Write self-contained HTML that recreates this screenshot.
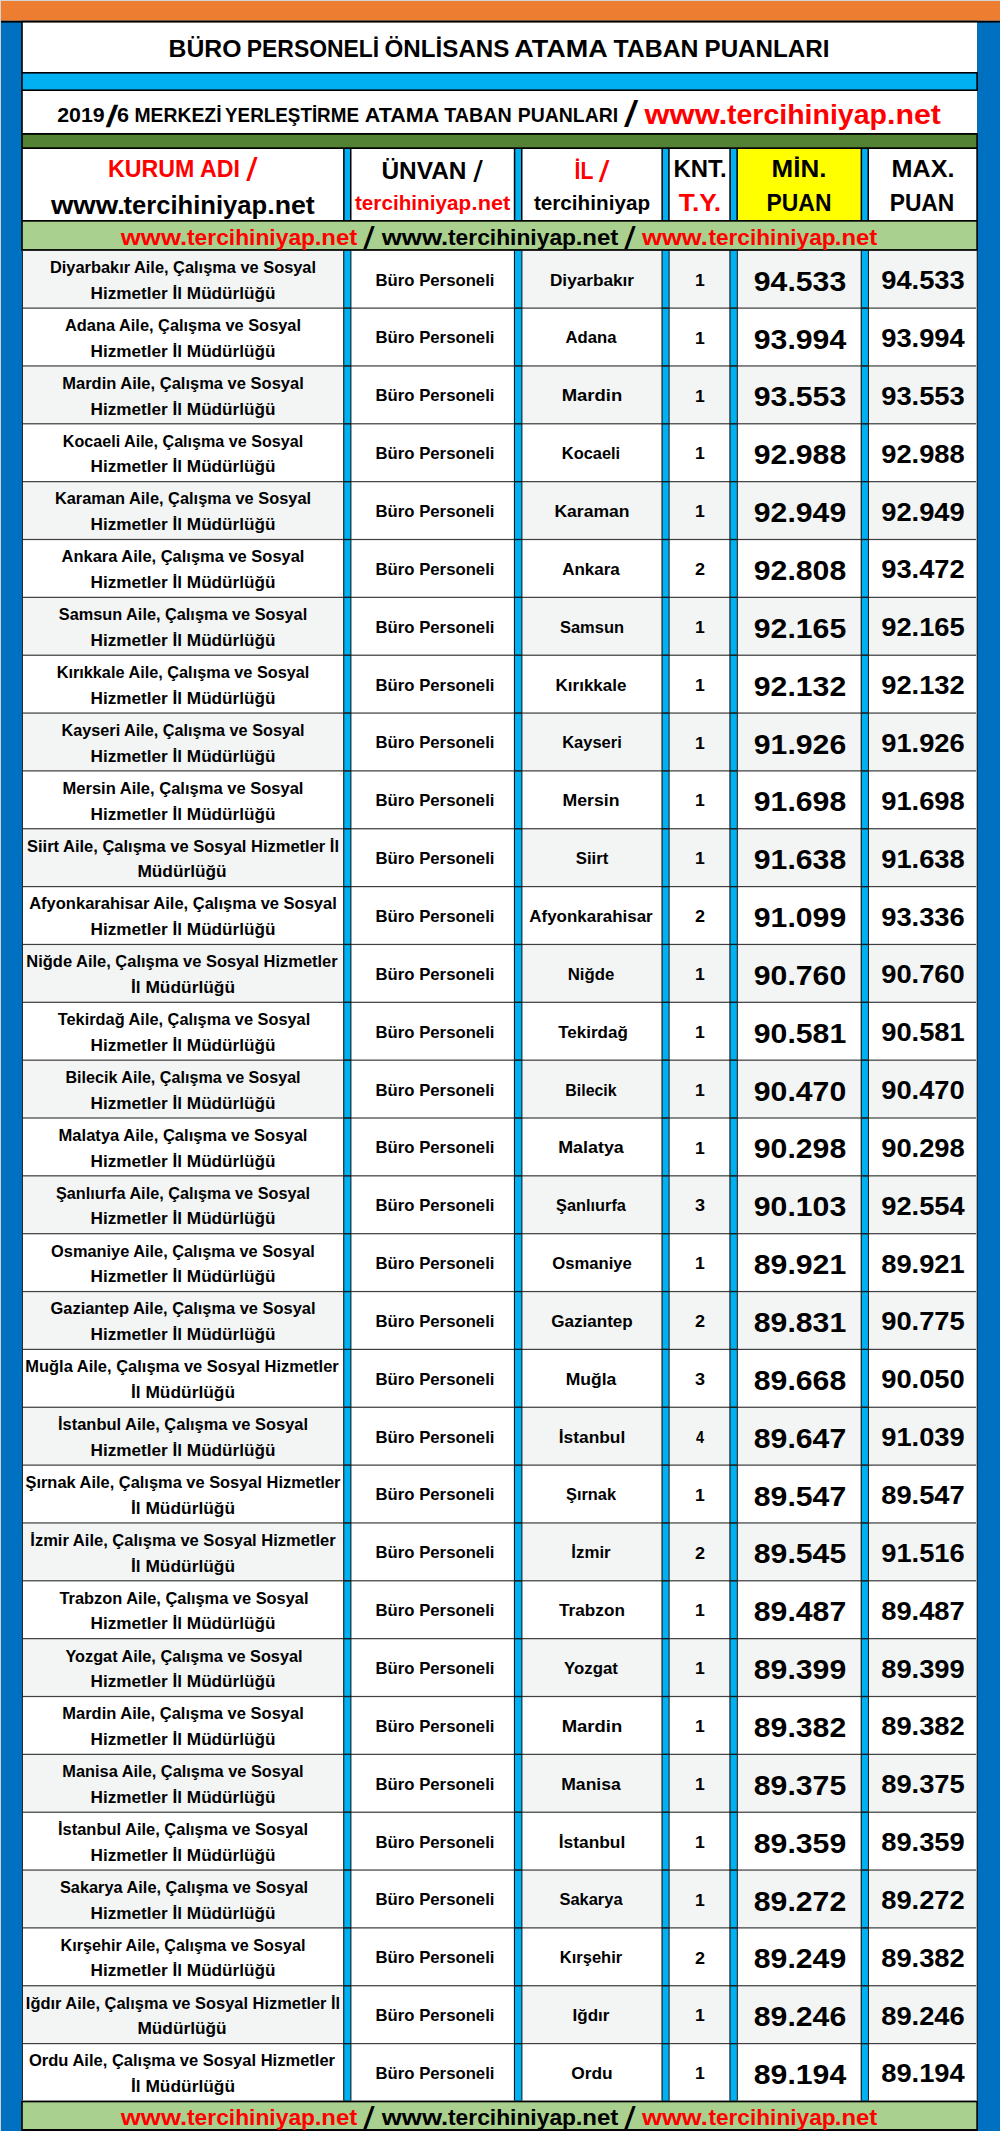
<!DOCTYPE html>
<html lang="tr"><head><meta charset="utf-8"><title>Büro Personeli Önlisans Atama Taban Puanları</title>
<style>
html,body{margin:0;padding:0;background:#fff;}
body{width:1000px;height:2131px;position:relative;overflow:hidden;font-family:"Liberation Sans",sans-serif;font-weight:700;color:#000;}
svg{position:absolute;left:0;top:0;display:block;}
.t{position:absolute;white-space:nowrap;line-height:1;transform-origin:50% 0;text-align:center;width:800px;margin-left:-400px;}
</style></head><body>
<svg width="1000" height="2131" viewBox="0 0 1000 2131">
<rect x="0.00" y="0.00" width="1000.00" height="2131.00" fill="#D4D4D4"/>
<rect x="1.00" y="1.00" width="999.00" height="19.80" fill="#ED7D31"/>
<rect x="1.00" y="20.80" width="999.00" height="2110.20" fill="#0070C0"/>
<rect x="1.00" y="20.80" width="999.00" height="1.80" fill="#000"/>
<rect x="21.20" y="20.80" width="956.70" height="2110.20" fill="#000"/>
<rect x="22.80" y="22.60" width="954.50" height="49.40" fill="#fff"/>
<rect x="22.80" y="73.60" width="953.50" height="15.80" fill="#00B0F0"/>
<rect x="22.80" y="91.00" width="954.50" height="42.00" fill="#fff"/>
<rect x="22.80" y="134.80" width="953.50" height="12.50" fill="#548235"/>
<rect x="977.30" y="22.60" width="0.70" height="49.40" fill="#0070C0"/>
<rect x="977.30" y="91.00" width="0.70" height="42.00" fill="#0070C0"/>
<rect x="22.80" y="149.00" width="320.30" height="71.00" fill="#fff"/>
<rect x="351.50" y="149.00" width="162.30" height="71.00" fill="#fff"/>
<rect x="522.50" y="149.00" width="138.90" height="71.00" fill="#fff"/>
<rect x="669.70" y="149.00" width="59.60" height="71.00" fill="#fff"/>
<rect x="737.90" y="149.00" width="122.70" height="71.00" fill="#FFFF00"/>
<rect x="869.00" y="149.00" width="107.30" height="71.00" fill="#fff"/>
<rect x="344.60" y="149.00" width="5.40" height="71.00" fill="#00B0F0"/>
<rect x="515.30" y="149.00" width="5.70" height="71.00" fill="#00B0F0"/>
<rect x="662.90" y="149.00" width="5.30" height="71.00" fill="#00B0F0"/>
<rect x="730.80" y="149.00" width="5.60" height="71.00" fill="#00B0F0"/>
<rect x="862.10" y="149.00" width="5.40" height="71.00" fill="#00B0F0"/>
<rect x="22.80" y="221.70" width="953.50" height="27.40" fill="#A9D08E"/>
<rect x="21.80" y="250.85" width="322.30" height="57.25" fill="#F3F5F5"/>
<rect x="350.50" y="250.85" width="164.30" height="57.25" fill="#fff"/>
<rect x="521.50" y="250.85" width="140.90" height="57.25" fill="#F3F5F5"/>
<rect x="668.70" y="250.85" width="61.60" height="57.25" fill="#F3F5F5"/>
<rect x="736.90" y="250.85" width="124.70" height="57.25" fill="#F3F5F5"/>
<rect x="868.00" y="250.85" width="109.30" height="57.25" fill="#F3F5F5"/>
<rect x="21.80" y="308.10" width="322.30" height="57.85" fill="#fff"/>
<rect x="350.50" y="308.10" width="164.30" height="57.85" fill="#fff"/>
<rect x="521.50" y="308.10" width="140.90" height="57.85" fill="#fff"/>
<rect x="668.70" y="308.10" width="61.60" height="57.85" fill="#fff"/>
<rect x="736.90" y="308.10" width="124.70" height="57.85" fill="#fff"/>
<rect x="868.00" y="308.10" width="109.30" height="57.85" fill="#fff"/>
<rect x="21.80" y="365.95" width="322.30" height="57.85" fill="#F3F5F5"/>
<rect x="350.50" y="365.95" width="164.30" height="57.85" fill="#fff"/>
<rect x="521.50" y="365.95" width="140.90" height="57.85" fill="#F3F5F5"/>
<rect x="668.70" y="365.95" width="61.60" height="57.85" fill="#F3F5F5"/>
<rect x="736.90" y="365.95" width="124.70" height="57.85" fill="#F3F5F5"/>
<rect x="868.00" y="365.95" width="109.30" height="57.85" fill="#F3F5F5"/>
<rect x="21.80" y="423.80" width="322.30" height="57.85" fill="#fff"/>
<rect x="350.50" y="423.80" width="164.30" height="57.85" fill="#fff"/>
<rect x="521.50" y="423.80" width="140.90" height="57.85" fill="#fff"/>
<rect x="668.70" y="423.80" width="61.60" height="57.85" fill="#fff"/>
<rect x="736.90" y="423.80" width="124.70" height="57.85" fill="#fff"/>
<rect x="868.00" y="423.80" width="109.30" height="57.85" fill="#fff"/>
<rect x="21.80" y="481.65" width="322.30" height="57.85" fill="#F3F5F5"/>
<rect x="350.50" y="481.65" width="164.30" height="57.85" fill="#fff"/>
<rect x="521.50" y="481.65" width="140.90" height="57.85" fill="#F3F5F5"/>
<rect x="668.70" y="481.65" width="61.60" height="57.85" fill="#F3F5F5"/>
<rect x="736.90" y="481.65" width="124.70" height="57.85" fill="#F3F5F5"/>
<rect x="868.00" y="481.65" width="109.30" height="57.85" fill="#F3F5F5"/>
<rect x="21.80" y="539.50" width="322.30" height="57.85" fill="#fff"/>
<rect x="350.50" y="539.50" width="164.30" height="57.85" fill="#fff"/>
<rect x="521.50" y="539.50" width="140.90" height="57.85" fill="#fff"/>
<rect x="668.70" y="539.50" width="61.60" height="57.85" fill="#fff"/>
<rect x="736.90" y="539.50" width="124.70" height="57.85" fill="#fff"/>
<rect x="868.00" y="539.50" width="109.30" height="57.85" fill="#fff"/>
<rect x="21.80" y="597.35" width="322.30" height="57.85" fill="#F3F5F5"/>
<rect x="350.50" y="597.35" width="164.30" height="57.85" fill="#fff"/>
<rect x="521.50" y="597.35" width="140.90" height="57.85" fill="#F3F5F5"/>
<rect x="668.70" y="597.35" width="61.60" height="57.85" fill="#F3F5F5"/>
<rect x="736.90" y="597.35" width="124.70" height="57.85" fill="#F3F5F5"/>
<rect x="868.00" y="597.35" width="109.30" height="57.85" fill="#F3F5F5"/>
<rect x="21.80" y="655.20" width="322.30" height="57.85" fill="#fff"/>
<rect x="350.50" y="655.20" width="164.30" height="57.85" fill="#fff"/>
<rect x="521.50" y="655.20" width="140.90" height="57.85" fill="#fff"/>
<rect x="668.70" y="655.20" width="61.60" height="57.85" fill="#fff"/>
<rect x="736.90" y="655.20" width="124.70" height="57.85" fill="#fff"/>
<rect x="868.00" y="655.20" width="109.30" height="57.85" fill="#fff"/>
<rect x="21.80" y="713.05" width="322.30" height="57.85" fill="#F3F5F5"/>
<rect x="350.50" y="713.05" width="164.30" height="57.85" fill="#fff"/>
<rect x="521.50" y="713.05" width="140.90" height="57.85" fill="#F3F5F5"/>
<rect x="668.70" y="713.05" width="61.60" height="57.85" fill="#F3F5F5"/>
<rect x="736.90" y="713.05" width="124.70" height="57.85" fill="#F3F5F5"/>
<rect x="868.00" y="713.05" width="109.30" height="57.85" fill="#F3F5F5"/>
<rect x="21.80" y="770.90" width="322.30" height="57.85" fill="#fff"/>
<rect x="350.50" y="770.90" width="164.30" height="57.85" fill="#fff"/>
<rect x="521.50" y="770.90" width="140.90" height="57.85" fill="#fff"/>
<rect x="668.70" y="770.90" width="61.60" height="57.85" fill="#fff"/>
<rect x="736.90" y="770.90" width="124.70" height="57.85" fill="#fff"/>
<rect x="868.00" y="770.90" width="109.30" height="57.85" fill="#fff"/>
<rect x="21.80" y="828.75" width="322.30" height="57.85" fill="#F3F5F5"/>
<rect x="350.50" y="828.75" width="164.30" height="57.85" fill="#fff"/>
<rect x="521.50" y="828.75" width="140.90" height="57.85" fill="#F3F5F5"/>
<rect x="668.70" y="828.75" width="61.60" height="57.85" fill="#F3F5F5"/>
<rect x="736.90" y="828.75" width="124.70" height="57.85" fill="#F3F5F5"/>
<rect x="868.00" y="828.75" width="109.30" height="57.85" fill="#F3F5F5"/>
<rect x="21.80" y="886.60" width="322.30" height="57.85" fill="#fff"/>
<rect x="350.50" y="886.60" width="164.30" height="57.85" fill="#fff"/>
<rect x="521.50" y="886.60" width="140.90" height="57.85" fill="#fff"/>
<rect x="668.70" y="886.60" width="61.60" height="57.85" fill="#fff"/>
<rect x="736.90" y="886.60" width="124.70" height="57.85" fill="#fff"/>
<rect x="868.00" y="886.60" width="109.30" height="57.85" fill="#fff"/>
<rect x="21.80" y="944.45" width="322.30" height="57.85" fill="#F3F5F5"/>
<rect x="350.50" y="944.45" width="164.30" height="57.85" fill="#fff"/>
<rect x="521.50" y="944.45" width="140.90" height="57.85" fill="#F3F5F5"/>
<rect x="668.70" y="944.45" width="61.60" height="57.85" fill="#F3F5F5"/>
<rect x="736.90" y="944.45" width="124.70" height="57.85" fill="#F3F5F5"/>
<rect x="868.00" y="944.45" width="109.30" height="57.85" fill="#F3F5F5"/>
<rect x="21.80" y="1002.30" width="322.30" height="57.85" fill="#fff"/>
<rect x="350.50" y="1002.30" width="164.30" height="57.85" fill="#fff"/>
<rect x="521.50" y="1002.30" width="140.90" height="57.85" fill="#fff"/>
<rect x="668.70" y="1002.30" width="61.60" height="57.85" fill="#fff"/>
<rect x="736.90" y="1002.30" width="124.70" height="57.85" fill="#fff"/>
<rect x="868.00" y="1002.30" width="109.30" height="57.85" fill="#fff"/>
<rect x="21.80" y="1060.15" width="322.30" height="57.85" fill="#F3F5F5"/>
<rect x="350.50" y="1060.15" width="164.30" height="57.85" fill="#fff"/>
<rect x="521.50" y="1060.15" width="140.90" height="57.85" fill="#F3F5F5"/>
<rect x="668.70" y="1060.15" width="61.60" height="57.85" fill="#F3F5F5"/>
<rect x="736.90" y="1060.15" width="124.70" height="57.85" fill="#F3F5F5"/>
<rect x="868.00" y="1060.15" width="109.30" height="57.85" fill="#F3F5F5"/>
<rect x="21.80" y="1118.00" width="322.30" height="57.85" fill="#fff"/>
<rect x="350.50" y="1118.00" width="164.30" height="57.85" fill="#fff"/>
<rect x="521.50" y="1118.00" width="140.90" height="57.85" fill="#fff"/>
<rect x="668.70" y="1118.00" width="61.60" height="57.85" fill="#fff"/>
<rect x="736.90" y="1118.00" width="124.70" height="57.85" fill="#fff"/>
<rect x="868.00" y="1118.00" width="109.30" height="57.85" fill="#fff"/>
<rect x="21.80" y="1175.85" width="322.30" height="57.85" fill="#F3F5F5"/>
<rect x="350.50" y="1175.85" width="164.30" height="57.85" fill="#fff"/>
<rect x="521.50" y="1175.85" width="140.90" height="57.85" fill="#F3F5F5"/>
<rect x="668.70" y="1175.85" width="61.60" height="57.85" fill="#F3F5F5"/>
<rect x="736.90" y="1175.85" width="124.70" height="57.85" fill="#F3F5F5"/>
<rect x="868.00" y="1175.85" width="109.30" height="57.85" fill="#F3F5F5"/>
<rect x="21.80" y="1233.70" width="322.30" height="57.85" fill="#fff"/>
<rect x="350.50" y="1233.70" width="164.30" height="57.85" fill="#fff"/>
<rect x="521.50" y="1233.70" width="140.90" height="57.85" fill="#fff"/>
<rect x="668.70" y="1233.70" width="61.60" height="57.85" fill="#fff"/>
<rect x="736.90" y="1233.70" width="124.70" height="57.85" fill="#fff"/>
<rect x="868.00" y="1233.70" width="109.30" height="57.85" fill="#fff"/>
<rect x="21.80" y="1291.55" width="322.30" height="57.85" fill="#F3F5F5"/>
<rect x="350.50" y="1291.55" width="164.30" height="57.85" fill="#fff"/>
<rect x="521.50" y="1291.55" width="140.90" height="57.85" fill="#F3F5F5"/>
<rect x="668.70" y="1291.55" width="61.60" height="57.85" fill="#F3F5F5"/>
<rect x="736.90" y="1291.55" width="124.70" height="57.85" fill="#F3F5F5"/>
<rect x="868.00" y="1291.55" width="109.30" height="57.85" fill="#F3F5F5"/>
<rect x="21.80" y="1349.40" width="322.30" height="57.85" fill="#fff"/>
<rect x="350.50" y="1349.40" width="164.30" height="57.85" fill="#fff"/>
<rect x="521.50" y="1349.40" width="140.90" height="57.85" fill="#fff"/>
<rect x="668.70" y="1349.40" width="61.60" height="57.85" fill="#fff"/>
<rect x="736.90" y="1349.40" width="124.70" height="57.85" fill="#fff"/>
<rect x="868.00" y="1349.40" width="109.30" height="57.85" fill="#fff"/>
<rect x="21.80" y="1407.25" width="322.30" height="57.85" fill="#F3F5F5"/>
<rect x="350.50" y="1407.25" width="164.30" height="57.85" fill="#fff"/>
<rect x="521.50" y="1407.25" width="140.90" height="57.85" fill="#F3F5F5"/>
<rect x="668.70" y="1407.25" width="61.60" height="57.85" fill="#F3F5F5"/>
<rect x="736.90" y="1407.25" width="124.70" height="57.85" fill="#F3F5F5"/>
<rect x="868.00" y="1407.25" width="109.30" height="57.85" fill="#F3F5F5"/>
<rect x="21.80" y="1465.10" width="322.30" height="57.85" fill="#fff"/>
<rect x="350.50" y="1465.10" width="164.30" height="57.85" fill="#fff"/>
<rect x="521.50" y="1465.10" width="140.90" height="57.85" fill="#fff"/>
<rect x="668.70" y="1465.10" width="61.60" height="57.85" fill="#fff"/>
<rect x="736.90" y="1465.10" width="124.70" height="57.85" fill="#fff"/>
<rect x="868.00" y="1465.10" width="109.30" height="57.85" fill="#fff"/>
<rect x="21.80" y="1522.95" width="322.30" height="57.85" fill="#F3F5F5"/>
<rect x="350.50" y="1522.95" width="164.30" height="57.85" fill="#fff"/>
<rect x="521.50" y="1522.95" width="140.90" height="57.85" fill="#F3F5F5"/>
<rect x="668.70" y="1522.95" width="61.60" height="57.85" fill="#F3F5F5"/>
<rect x="736.90" y="1522.95" width="124.70" height="57.85" fill="#F3F5F5"/>
<rect x="868.00" y="1522.95" width="109.30" height="57.85" fill="#F3F5F5"/>
<rect x="21.80" y="1580.80" width="322.30" height="57.85" fill="#fff"/>
<rect x="350.50" y="1580.80" width="164.30" height="57.85" fill="#fff"/>
<rect x="521.50" y="1580.80" width="140.90" height="57.85" fill="#fff"/>
<rect x="668.70" y="1580.80" width="61.60" height="57.85" fill="#fff"/>
<rect x="736.90" y="1580.80" width="124.70" height="57.85" fill="#fff"/>
<rect x="868.00" y="1580.80" width="109.30" height="57.85" fill="#fff"/>
<rect x="21.80" y="1638.65" width="322.30" height="57.85" fill="#F3F5F5"/>
<rect x="350.50" y="1638.65" width="164.30" height="57.85" fill="#fff"/>
<rect x="521.50" y="1638.65" width="140.90" height="57.85" fill="#F3F5F5"/>
<rect x="668.70" y="1638.65" width="61.60" height="57.85" fill="#F3F5F5"/>
<rect x="736.90" y="1638.65" width="124.70" height="57.85" fill="#F3F5F5"/>
<rect x="868.00" y="1638.65" width="109.30" height="57.85" fill="#F3F5F5"/>
<rect x="21.80" y="1696.50" width="322.30" height="57.85" fill="#fff"/>
<rect x="350.50" y="1696.50" width="164.30" height="57.85" fill="#fff"/>
<rect x="521.50" y="1696.50" width="140.90" height="57.85" fill="#fff"/>
<rect x="668.70" y="1696.50" width="61.60" height="57.85" fill="#fff"/>
<rect x="736.90" y="1696.50" width="124.70" height="57.85" fill="#fff"/>
<rect x="868.00" y="1696.50" width="109.30" height="57.85" fill="#fff"/>
<rect x="21.80" y="1754.35" width="322.30" height="57.85" fill="#F3F5F5"/>
<rect x="350.50" y="1754.35" width="164.30" height="57.85" fill="#fff"/>
<rect x="521.50" y="1754.35" width="140.90" height="57.85" fill="#F3F5F5"/>
<rect x="668.70" y="1754.35" width="61.60" height="57.85" fill="#F3F5F5"/>
<rect x="736.90" y="1754.35" width="124.70" height="57.85" fill="#F3F5F5"/>
<rect x="868.00" y="1754.35" width="109.30" height="57.85" fill="#F3F5F5"/>
<rect x="21.80" y="1812.20" width="322.30" height="57.85" fill="#fff"/>
<rect x="350.50" y="1812.20" width="164.30" height="57.85" fill="#fff"/>
<rect x="521.50" y="1812.20" width="140.90" height="57.85" fill="#fff"/>
<rect x="668.70" y="1812.20" width="61.60" height="57.85" fill="#fff"/>
<rect x="736.90" y="1812.20" width="124.70" height="57.85" fill="#fff"/>
<rect x="868.00" y="1812.20" width="109.30" height="57.85" fill="#fff"/>
<rect x="21.80" y="1870.05" width="322.30" height="57.85" fill="#F3F5F5"/>
<rect x="350.50" y="1870.05" width="164.30" height="57.85" fill="#fff"/>
<rect x="521.50" y="1870.05" width="140.90" height="57.85" fill="#F3F5F5"/>
<rect x="668.70" y="1870.05" width="61.60" height="57.85" fill="#F3F5F5"/>
<rect x="736.90" y="1870.05" width="124.70" height="57.85" fill="#F3F5F5"/>
<rect x="868.00" y="1870.05" width="109.30" height="57.85" fill="#F3F5F5"/>
<rect x="21.80" y="1927.90" width="322.30" height="57.85" fill="#fff"/>
<rect x="350.50" y="1927.90" width="164.30" height="57.85" fill="#fff"/>
<rect x="521.50" y="1927.90" width="140.90" height="57.85" fill="#fff"/>
<rect x="668.70" y="1927.90" width="61.60" height="57.85" fill="#fff"/>
<rect x="736.90" y="1927.90" width="124.70" height="57.85" fill="#fff"/>
<rect x="868.00" y="1927.90" width="109.30" height="57.85" fill="#fff"/>
<rect x="21.80" y="1985.75" width="322.30" height="57.85" fill="#F3F5F5"/>
<rect x="350.50" y="1985.75" width="164.30" height="57.85" fill="#fff"/>
<rect x="521.50" y="1985.75" width="140.90" height="57.85" fill="#F3F5F5"/>
<rect x="668.70" y="1985.75" width="61.60" height="57.85" fill="#F3F5F5"/>
<rect x="736.90" y="1985.75" width="124.70" height="57.85" fill="#F3F5F5"/>
<rect x="868.00" y="1985.75" width="109.30" height="57.85" fill="#F3F5F5"/>
<rect x="21.80" y="2043.60" width="322.30" height="56.95" fill="#fff"/>
<rect x="350.50" y="2043.60" width="164.30" height="56.95" fill="#fff"/>
<rect x="521.50" y="2043.60" width="140.90" height="56.95" fill="#fff"/>
<rect x="668.70" y="2043.60" width="61.60" height="56.95" fill="#fff"/>
<rect x="736.90" y="2043.60" width="124.70" height="56.95" fill="#fff"/>
<rect x="868.00" y="2043.60" width="109.30" height="56.95" fill="#fff"/>
<rect x="343.20" y="250.85" width="8.20" height="1849.70" fill="#0a0a0a"/>
<rect x="344.25" y="250.85" width="6.20" height="1849.70" fill="#00B0F0"/>
<rect x="513.90" y="250.85" width="8.50" height="1849.70" fill="#0a0a0a"/>
<rect x="514.95" y="250.85" width="6.50" height="1849.70" fill="#00B0F0"/>
<rect x="661.50" y="250.85" width="8.10" height="1849.70" fill="#0a0a0a"/>
<rect x="662.55" y="250.85" width="6.10" height="1849.70" fill="#00B0F0"/>
<rect x="729.40" y="250.85" width="8.40" height="1849.70" fill="#0a0a0a"/>
<rect x="730.45" y="250.85" width="6.40" height="1849.70" fill="#00B0F0"/>
<rect x="860.70" y="250.85" width="8.20" height="1849.70" fill="#0a0a0a"/>
<rect x="861.75" y="250.85" width="6.20" height="1849.70" fill="#00B0F0"/>
<rect x="22.80" y="307.50" width="953.50" height="1.20" fill="#404040"/>
<rect x="343.30" y="307.50" width="8.00" height="1.20" fill="#10181c"/>
<rect x="514.00" y="307.50" width="8.30" height="1.20" fill="#10181c"/>
<rect x="661.60" y="307.50" width="7.90" height="1.20" fill="#10181c"/>
<rect x="729.50" y="307.50" width="8.20" height="1.20" fill="#10181c"/>
<rect x="860.80" y="307.50" width="8.00" height="1.20" fill="#10181c"/>
<rect x="22.80" y="365.35" width="953.50" height="1.20" fill="#404040"/>
<rect x="343.30" y="365.35" width="8.00" height="1.20" fill="#10181c"/>
<rect x="514.00" y="365.35" width="8.30" height="1.20" fill="#10181c"/>
<rect x="661.60" y="365.35" width="7.90" height="1.20" fill="#10181c"/>
<rect x="729.50" y="365.35" width="8.20" height="1.20" fill="#10181c"/>
<rect x="860.80" y="365.35" width="8.00" height="1.20" fill="#10181c"/>
<rect x="22.80" y="423.20" width="953.50" height="1.20" fill="#404040"/>
<rect x="343.30" y="423.20" width="8.00" height="1.20" fill="#10181c"/>
<rect x="514.00" y="423.20" width="8.30" height="1.20" fill="#10181c"/>
<rect x="661.60" y="423.20" width="7.90" height="1.20" fill="#10181c"/>
<rect x="729.50" y="423.20" width="8.20" height="1.20" fill="#10181c"/>
<rect x="860.80" y="423.20" width="8.00" height="1.20" fill="#10181c"/>
<rect x="22.80" y="481.05" width="953.50" height="1.20" fill="#404040"/>
<rect x="343.30" y="481.05" width="8.00" height="1.20" fill="#10181c"/>
<rect x="514.00" y="481.05" width="8.30" height="1.20" fill="#10181c"/>
<rect x="661.60" y="481.05" width="7.90" height="1.20" fill="#10181c"/>
<rect x="729.50" y="481.05" width="8.20" height="1.20" fill="#10181c"/>
<rect x="860.80" y="481.05" width="8.00" height="1.20" fill="#10181c"/>
<rect x="22.80" y="538.90" width="953.50" height="1.20" fill="#404040"/>
<rect x="343.30" y="538.90" width="8.00" height="1.20" fill="#10181c"/>
<rect x="514.00" y="538.90" width="8.30" height="1.20" fill="#10181c"/>
<rect x="661.60" y="538.90" width="7.90" height="1.20" fill="#10181c"/>
<rect x="729.50" y="538.90" width="8.20" height="1.20" fill="#10181c"/>
<rect x="860.80" y="538.90" width="8.00" height="1.20" fill="#10181c"/>
<rect x="22.80" y="596.75" width="953.50" height="1.20" fill="#404040"/>
<rect x="343.30" y="596.75" width="8.00" height="1.20" fill="#10181c"/>
<rect x="514.00" y="596.75" width="8.30" height="1.20" fill="#10181c"/>
<rect x="661.60" y="596.75" width="7.90" height="1.20" fill="#10181c"/>
<rect x="729.50" y="596.75" width="8.20" height="1.20" fill="#10181c"/>
<rect x="860.80" y="596.75" width="8.00" height="1.20" fill="#10181c"/>
<rect x="22.80" y="654.60" width="953.50" height="1.20" fill="#404040"/>
<rect x="343.30" y="654.60" width="8.00" height="1.20" fill="#10181c"/>
<rect x="514.00" y="654.60" width="8.30" height="1.20" fill="#10181c"/>
<rect x="661.60" y="654.60" width="7.90" height="1.20" fill="#10181c"/>
<rect x="729.50" y="654.60" width="8.20" height="1.20" fill="#10181c"/>
<rect x="860.80" y="654.60" width="8.00" height="1.20" fill="#10181c"/>
<rect x="22.80" y="712.45" width="953.50" height="1.20" fill="#404040"/>
<rect x="343.30" y="712.45" width="8.00" height="1.20" fill="#10181c"/>
<rect x="514.00" y="712.45" width="8.30" height="1.20" fill="#10181c"/>
<rect x="661.60" y="712.45" width="7.90" height="1.20" fill="#10181c"/>
<rect x="729.50" y="712.45" width="8.20" height="1.20" fill="#10181c"/>
<rect x="860.80" y="712.45" width="8.00" height="1.20" fill="#10181c"/>
<rect x="22.80" y="770.30" width="953.50" height="1.20" fill="#404040"/>
<rect x="343.30" y="770.30" width="8.00" height="1.20" fill="#10181c"/>
<rect x="514.00" y="770.30" width="8.30" height="1.20" fill="#10181c"/>
<rect x="661.60" y="770.30" width="7.90" height="1.20" fill="#10181c"/>
<rect x="729.50" y="770.30" width="8.20" height="1.20" fill="#10181c"/>
<rect x="860.80" y="770.30" width="8.00" height="1.20" fill="#10181c"/>
<rect x="22.80" y="828.15" width="953.50" height="1.20" fill="#404040"/>
<rect x="343.30" y="828.15" width="8.00" height="1.20" fill="#10181c"/>
<rect x="514.00" y="828.15" width="8.30" height="1.20" fill="#10181c"/>
<rect x="661.60" y="828.15" width="7.90" height="1.20" fill="#10181c"/>
<rect x="729.50" y="828.15" width="8.20" height="1.20" fill="#10181c"/>
<rect x="860.80" y="828.15" width="8.00" height="1.20" fill="#10181c"/>
<rect x="22.80" y="886.00" width="953.50" height="1.20" fill="#404040"/>
<rect x="343.30" y="886.00" width="8.00" height="1.20" fill="#10181c"/>
<rect x="514.00" y="886.00" width="8.30" height="1.20" fill="#10181c"/>
<rect x="661.60" y="886.00" width="7.90" height="1.20" fill="#10181c"/>
<rect x="729.50" y="886.00" width="8.20" height="1.20" fill="#10181c"/>
<rect x="860.80" y="886.00" width="8.00" height="1.20" fill="#10181c"/>
<rect x="22.80" y="943.85" width="953.50" height="1.20" fill="#404040"/>
<rect x="343.30" y="943.85" width="8.00" height="1.20" fill="#10181c"/>
<rect x="514.00" y="943.85" width="8.30" height="1.20" fill="#10181c"/>
<rect x="661.60" y="943.85" width="7.90" height="1.20" fill="#10181c"/>
<rect x="729.50" y="943.85" width="8.20" height="1.20" fill="#10181c"/>
<rect x="860.80" y="943.85" width="8.00" height="1.20" fill="#10181c"/>
<rect x="22.80" y="1001.70" width="953.50" height="1.20" fill="#404040"/>
<rect x="343.30" y="1001.70" width="8.00" height="1.20" fill="#10181c"/>
<rect x="514.00" y="1001.70" width="8.30" height="1.20" fill="#10181c"/>
<rect x="661.60" y="1001.70" width="7.90" height="1.20" fill="#10181c"/>
<rect x="729.50" y="1001.70" width="8.20" height="1.20" fill="#10181c"/>
<rect x="860.80" y="1001.70" width="8.00" height="1.20" fill="#10181c"/>
<rect x="22.80" y="1059.55" width="953.50" height="1.20" fill="#404040"/>
<rect x="343.30" y="1059.55" width="8.00" height="1.20" fill="#10181c"/>
<rect x="514.00" y="1059.55" width="8.30" height="1.20" fill="#10181c"/>
<rect x="661.60" y="1059.55" width="7.90" height="1.20" fill="#10181c"/>
<rect x="729.50" y="1059.55" width="8.20" height="1.20" fill="#10181c"/>
<rect x="860.80" y="1059.55" width="8.00" height="1.20" fill="#10181c"/>
<rect x="22.80" y="1117.40" width="953.50" height="1.20" fill="#404040"/>
<rect x="343.30" y="1117.40" width="8.00" height="1.20" fill="#10181c"/>
<rect x="514.00" y="1117.40" width="8.30" height="1.20" fill="#10181c"/>
<rect x="661.60" y="1117.40" width="7.90" height="1.20" fill="#10181c"/>
<rect x="729.50" y="1117.40" width="8.20" height="1.20" fill="#10181c"/>
<rect x="860.80" y="1117.40" width="8.00" height="1.20" fill="#10181c"/>
<rect x="22.80" y="1175.25" width="953.50" height="1.20" fill="#404040"/>
<rect x="343.30" y="1175.25" width="8.00" height="1.20" fill="#10181c"/>
<rect x="514.00" y="1175.25" width="8.30" height="1.20" fill="#10181c"/>
<rect x="661.60" y="1175.25" width="7.90" height="1.20" fill="#10181c"/>
<rect x="729.50" y="1175.25" width="8.20" height="1.20" fill="#10181c"/>
<rect x="860.80" y="1175.25" width="8.00" height="1.20" fill="#10181c"/>
<rect x="22.80" y="1233.10" width="953.50" height="1.20" fill="#404040"/>
<rect x="343.30" y="1233.10" width="8.00" height="1.20" fill="#10181c"/>
<rect x="514.00" y="1233.10" width="8.30" height="1.20" fill="#10181c"/>
<rect x="661.60" y="1233.10" width="7.90" height="1.20" fill="#10181c"/>
<rect x="729.50" y="1233.10" width="8.20" height="1.20" fill="#10181c"/>
<rect x="860.80" y="1233.10" width="8.00" height="1.20" fill="#10181c"/>
<rect x="22.80" y="1290.95" width="953.50" height="1.20" fill="#404040"/>
<rect x="343.30" y="1290.95" width="8.00" height="1.20" fill="#10181c"/>
<rect x="514.00" y="1290.95" width="8.30" height="1.20" fill="#10181c"/>
<rect x="661.60" y="1290.95" width="7.90" height="1.20" fill="#10181c"/>
<rect x="729.50" y="1290.95" width="8.20" height="1.20" fill="#10181c"/>
<rect x="860.80" y="1290.95" width="8.00" height="1.20" fill="#10181c"/>
<rect x="22.80" y="1348.80" width="953.50" height="1.20" fill="#404040"/>
<rect x="343.30" y="1348.80" width="8.00" height="1.20" fill="#10181c"/>
<rect x="514.00" y="1348.80" width="8.30" height="1.20" fill="#10181c"/>
<rect x="661.60" y="1348.80" width="7.90" height="1.20" fill="#10181c"/>
<rect x="729.50" y="1348.80" width="8.20" height="1.20" fill="#10181c"/>
<rect x="860.80" y="1348.80" width="8.00" height="1.20" fill="#10181c"/>
<rect x="22.80" y="1406.65" width="953.50" height="1.20" fill="#404040"/>
<rect x="343.30" y="1406.65" width="8.00" height="1.20" fill="#10181c"/>
<rect x="514.00" y="1406.65" width="8.30" height="1.20" fill="#10181c"/>
<rect x="661.60" y="1406.65" width="7.90" height="1.20" fill="#10181c"/>
<rect x="729.50" y="1406.65" width="8.20" height="1.20" fill="#10181c"/>
<rect x="860.80" y="1406.65" width="8.00" height="1.20" fill="#10181c"/>
<rect x="22.80" y="1464.50" width="953.50" height="1.20" fill="#404040"/>
<rect x="343.30" y="1464.50" width="8.00" height="1.20" fill="#10181c"/>
<rect x="514.00" y="1464.50" width="8.30" height="1.20" fill="#10181c"/>
<rect x="661.60" y="1464.50" width="7.90" height="1.20" fill="#10181c"/>
<rect x="729.50" y="1464.50" width="8.20" height="1.20" fill="#10181c"/>
<rect x="860.80" y="1464.50" width="8.00" height="1.20" fill="#10181c"/>
<rect x="22.80" y="1522.35" width="953.50" height="1.20" fill="#404040"/>
<rect x="343.30" y="1522.35" width="8.00" height="1.20" fill="#10181c"/>
<rect x="514.00" y="1522.35" width="8.30" height="1.20" fill="#10181c"/>
<rect x="661.60" y="1522.35" width="7.90" height="1.20" fill="#10181c"/>
<rect x="729.50" y="1522.35" width="8.20" height="1.20" fill="#10181c"/>
<rect x="860.80" y="1522.35" width="8.00" height="1.20" fill="#10181c"/>
<rect x="22.80" y="1580.20" width="953.50" height="1.20" fill="#404040"/>
<rect x="343.30" y="1580.20" width="8.00" height="1.20" fill="#10181c"/>
<rect x="514.00" y="1580.20" width="8.30" height="1.20" fill="#10181c"/>
<rect x="661.60" y="1580.20" width="7.90" height="1.20" fill="#10181c"/>
<rect x="729.50" y="1580.20" width="8.20" height="1.20" fill="#10181c"/>
<rect x="860.80" y="1580.20" width="8.00" height="1.20" fill="#10181c"/>
<rect x="22.80" y="1638.05" width="953.50" height="1.20" fill="#404040"/>
<rect x="343.30" y="1638.05" width="8.00" height="1.20" fill="#10181c"/>
<rect x="514.00" y="1638.05" width="8.30" height="1.20" fill="#10181c"/>
<rect x="661.60" y="1638.05" width="7.90" height="1.20" fill="#10181c"/>
<rect x="729.50" y="1638.05" width="8.20" height="1.20" fill="#10181c"/>
<rect x="860.80" y="1638.05" width="8.00" height="1.20" fill="#10181c"/>
<rect x="22.80" y="1695.90" width="953.50" height="1.20" fill="#404040"/>
<rect x="343.30" y="1695.90" width="8.00" height="1.20" fill="#10181c"/>
<rect x="514.00" y="1695.90" width="8.30" height="1.20" fill="#10181c"/>
<rect x="661.60" y="1695.90" width="7.90" height="1.20" fill="#10181c"/>
<rect x="729.50" y="1695.90" width="8.20" height="1.20" fill="#10181c"/>
<rect x="860.80" y="1695.90" width="8.00" height="1.20" fill="#10181c"/>
<rect x="22.80" y="1753.75" width="953.50" height="1.20" fill="#404040"/>
<rect x="343.30" y="1753.75" width="8.00" height="1.20" fill="#10181c"/>
<rect x="514.00" y="1753.75" width="8.30" height="1.20" fill="#10181c"/>
<rect x="661.60" y="1753.75" width="7.90" height="1.20" fill="#10181c"/>
<rect x="729.50" y="1753.75" width="8.20" height="1.20" fill="#10181c"/>
<rect x="860.80" y="1753.75" width="8.00" height="1.20" fill="#10181c"/>
<rect x="22.80" y="1811.60" width="953.50" height="1.20" fill="#404040"/>
<rect x="343.30" y="1811.60" width="8.00" height="1.20" fill="#10181c"/>
<rect x="514.00" y="1811.60" width="8.30" height="1.20" fill="#10181c"/>
<rect x="661.60" y="1811.60" width="7.90" height="1.20" fill="#10181c"/>
<rect x="729.50" y="1811.60" width="8.20" height="1.20" fill="#10181c"/>
<rect x="860.80" y="1811.60" width="8.00" height="1.20" fill="#10181c"/>
<rect x="22.80" y="1869.45" width="953.50" height="1.20" fill="#404040"/>
<rect x="343.30" y="1869.45" width="8.00" height="1.20" fill="#10181c"/>
<rect x="514.00" y="1869.45" width="8.30" height="1.20" fill="#10181c"/>
<rect x="661.60" y="1869.45" width="7.90" height="1.20" fill="#10181c"/>
<rect x="729.50" y="1869.45" width="8.20" height="1.20" fill="#10181c"/>
<rect x="860.80" y="1869.45" width="8.00" height="1.20" fill="#10181c"/>
<rect x="22.80" y="1927.30" width="953.50" height="1.20" fill="#404040"/>
<rect x="343.30" y="1927.30" width="8.00" height="1.20" fill="#10181c"/>
<rect x="514.00" y="1927.30" width="8.30" height="1.20" fill="#10181c"/>
<rect x="661.60" y="1927.30" width="7.90" height="1.20" fill="#10181c"/>
<rect x="729.50" y="1927.30" width="8.20" height="1.20" fill="#10181c"/>
<rect x="860.80" y="1927.30" width="8.00" height="1.20" fill="#10181c"/>
<rect x="22.80" y="1985.15" width="953.50" height="1.20" fill="#404040"/>
<rect x="343.30" y="1985.15" width="8.00" height="1.20" fill="#10181c"/>
<rect x="514.00" y="1985.15" width="8.30" height="1.20" fill="#10181c"/>
<rect x="661.60" y="1985.15" width="7.90" height="1.20" fill="#10181c"/>
<rect x="729.50" y="1985.15" width="8.20" height="1.20" fill="#10181c"/>
<rect x="860.80" y="1985.15" width="8.00" height="1.20" fill="#10181c"/>
<rect x="22.80" y="2043.00" width="953.50" height="1.20" fill="#404040"/>
<rect x="343.30" y="2043.00" width="8.00" height="1.20" fill="#10181c"/>
<rect x="514.00" y="2043.00" width="8.30" height="1.20" fill="#10181c"/>
<rect x="661.60" y="2043.00" width="7.90" height="1.20" fill="#10181c"/>
<rect x="729.50" y="2043.00" width="8.20" height="1.20" fill="#10181c"/>
<rect x="860.80" y="2043.00" width="8.00" height="1.20" fill="#10181c"/>
<rect x="21.00" y="251.05" width="1.00" height="1849.30" fill="#0070C0"/>
<rect x="21.95" y="251.05" width="0.95" height="1849.30" fill="#141414"/>
<rect x="976.00" y="251.05" width="0.80" height="1849.30" fill="#fff"/>
<rect x="976.00" y="251.05" width="0.80" height="56.45" fill="#F3F5F5"/>
<rect x="976.00" y="366.55" width="0.80" height="56.65" fill="#F3F5F5"/>
<rect x="976.00" y="482.25" width="0.80" height="56.65" fill="#F3F5F5"/>
<rect x="976.00" y="597.95" width="0.80" height="56.65" fill="#F3F5F5"/>
<rect x="976.00" y="713.65" width="0.80" height="56.65" fill="#F3F5F5"/>
<rect x="976.00" y="829.35" width="0.80" height="56.65" fill="#F3F5F5"/>
<rect x="976.00" y="945.05" width="0.80" height="56.65" fill="#F3F5F5"/>
<rect x="976.00" y="1060.75" width="0.80" height="56.65" fill="#F3F5F5"/>
<rect x="976.00" y="1176.45" width="0.80" height="56.65" fill="#F3F5F5"/>
<rect x="976.00" y="1292.15" width="0.80" height="56.65" fill="#F3F5F5"/>
<rect x="976.00" y="1407.85" width="0.80" height="56.65" fill="#F3F5F5"/>
<rect x="976.00" y="1523.55" width="0.80" height="56.65" fill="#F3F5F5"/>
<rect x="976.00" y="1639.25" width="0.80" height="56.65" fill="#F3F5F5"/>
<rect x="976.00" y="1754.95" width="0.80" height="56.65" fill="#F3F5F5"/>
<rect x="976.00" y="1870.65" width="0.80" height="56.65" fill="#F3F5F5"/>
<rect x="976.00" y="1986.35" width="0.80" height="56.65" fill="#F3F5F5"/>
<rect x="976.70" y="251.05" width="1.10" height="1849.30" fill="#141414"/>
<rect x="977.80" y="251.05" width="0.20" height="1849.30" fill="#0070C0"/>
<rect x="22.80" y="2102.35" width="953.50" height="26.65" fill="#A9D08E"/>
</svg>
<div class="t" id="ti0" style="left:205.04px;top:37px;font-size:24.10px;transform:scaleX(1.0275);"><span>BÜRO</span></div>
<div class="t" id="ti1" style="left:313.30px;top:37px;font-size:24.10px;transform:scaleX(0.9515);"><span>PERSONELİ</span></div>
<div class="t" id="ti2" style="left:446.50px;top:37px;font-size:24.10px;transform:scaleX(1.0033);"><span>ÖNLİSANS</span></div>
<div class="t" id="ti3" style="left:561.05px;top:37px;font-size:24.10px;transform:scaleX(1.1183);"><span>ATAMA</span></div>
<div class="t" id="ti4" style="left:655.61px;top:37px;font-size:24.10px;transform:scaleX(1.0296);"><span>TABAN</span></div>
<div class="t" id="ti5" style="left:767.45px;top:37px;font-size:24.10px;transform:scaleX(1.0041);"><span>PUANLARI</span></div>
<div class="t" id="su0" style="left:81.05px;top:106px;font-size:19.30px;transform:scaleX(1.1071);"><span>2019</span></div>
<div class="t" id="su1" style="left:123.00px;top:106px;font-size:19.30px;transform:scaleX(1.1200);"><span>6</span></div>
<div class="t" id="su2" style="left:178.10px;top:106px;font-size:19.30px;transform:scaleX(1.0048);"><span>MERKEZİ</span></div>
<div class="t" id="su3" style="left:292.20px;top:106px;font-size:19.30px;transform:scaleX(0.9765);"><span>YERLEŞTİRME</span></div>
<div class="t" id="su4" style="left:401.70px;top:106px;font-size:19.30px;transform:scaleX(1.1182);"><span>ATAMA</span></div>
<div class="t" id="su5" style="left:478.01px;top:106px;font-size:19.30px;transform:scaleX(1.0215);"><span>TABAN</span></div>
<div class="t" id="su6" style="left:567.80px;top:106px;font-size:19.30px;transform:scaleX(1.0082);"><span>PUANLARI</span></div>
<div class="t" id="su_s" style="left:111.50px;top:103px;font-size:28.57px;transform:scaleX(1.4250);font-weight:400;-webkit-text-stroke:0.7px #000;"><span>/</span></div>
<div class="t" id="sub2" style="left:630.75px;top:96px;font-size:37.82px;transform:scaleX(1.3500);font-weight:400;"><span>/</span></div>
<div class="t" id="sub3w" style="left:686.32px;top:100px;font-size:28.40px;color:#FF0000;transform:scaleX(1.1338);"><span>www.</span></div>
<div class="t" id="sub3m" style="left:807.31px;top:100px;font-size:28.40px;color:#FF0000;transform:scaleX(1.0038);"><span>tercihiniyap</span></div>
<div class="t" id="sub3n" style="left:914.19px;top:100px;font-size:28.40px;color:#FF0000;transform:scaleX(1.0684);"><span>.net</span></div>
<div class="t" id="h1a" style="left:173.60px;top:157px;font-size:24.00px;color:#FF0000;transform:scaleX(0.9672);"><span>KURUM ADI</span></div>
<div class="t" id="h1s" style="left:252.00px;top:152px;font-size:34.01px;color:#FF0000;transform:scaleX(1.2000);font-weight:400;"><span>/</span></div>
<div class="t" id="h1bw" style="left:87.66px;top:193px;font-size:25.60px;transform:scaleX(1.1262);"><span>www.</span></div>
<div class="t" id="h1bm" style="left:195.38px;top:193px;font-size:25.60px;"><span>tercihiniyap</span></div>
<div class="t" id="h1bn" style="left:291.00px;top:193px;font-size:25.60px;transform:scaleX(1.0436);"><span>.net</span></div>
<div class="t" id="h2a" style="left:424.30px;top:159px;font-size:24.00px;transform:scaleX(1.0175);"><span>ÜNVAN</span></div>
<div class="t" id="h2s" style="left:477.60px;top:158px;font-size:28.71px;transform:scaleX(1.2000);font-weight:400;"><span>/</span></div>
<div class="t" id="h2bm" style="left:412.67px;top:193px;font-size:20.80px;color:#FF0000;transform:scaleX(0.9943);"><span>tercihiniyap</span></div>
<div class="t" id="h2bn" style="left:490.54px;top:193px;font-size:20.80px;color:#FF0000;transform:scaleX(1.0477);"><span>.net</span></div>
<div class="t" id="h3a" style="left:584.06px;top:159px;font-size:24.00px;color:#FF0000;transform:scaleX(0.8842);"><span>İL</span></div>
<div class="t" id="h3s" style="left:604.45px;top:157px;font-size:29.39px;color:#FF0000;transform:scaleX(1.3125);font-weight:400;"><span>/</span></div>
<div class="t" id="h3b" style="left:591.85px;top:193px;font-size:20.80px;transform:scaleX(0.9957);"><span>tercihiniyap</span></div>
<div class="t" id="h4a" style="left:699.90px;top:157px;font-size:24.00px;transform:scaleX(0.9960);"><span>KNT.</span></div>
<div class="t" id="h4b" style="left:699.80px;top:191px;font-size:24.00px;color:#FF0000;transform:scaleX(1.0946);"><span>T.Y.</span></div>
<div class="t" id="h5a" style="left:799.35px;top:157px;font-size:24.00px;transform:scaleX(1.0812);"><span>MİN.</span></div>
<div class="t" id="h5b" style="left:798.82px;top:191px;font-size:24.00px;transform:scaleX(0.9538);"><span>PUAN</span></div>
<div class="t" id="h6a" style="left:923.00px;top:157px;font-size:24.00px;transform:scaleX(1.0464);"><span>MAX.</span></div>
<div class="t" id="h6b" style="left:922.42px;top:191px;font-size:24.00px;transform:scaleX(0.9508);"><span>PUAN</span></div>
<div class="t" id="g1aw" style="left:154.28px;top:226px;font-size:22.90px;color:#FF0000;transform:scaleX(1.1268);"><span>www.</span></div>
<div class="t" id="g1am" style="left:251.20px;top:226px;font-size:22.90px;color:#FF0000;transform:scaleX(0.9964);"><span>tercihiniyap</span></div>
<div class="t" id="g1an" style="left:336.32px;top:226px;font-size:22.90px;color:#FF0000;transform:scaleX(1.0492);"><span>.net</span></div>
<div class="t" id="g1b" style="left:369.25px;top:223px;font-size:31.29px;transform:scaleX(1.3125);font-weight:400;"><span>/</span></div>
<div class="t" id="g1cw" style="left:414.88px;top:226px;font-size:22.90px;transform:scaleX(1.1268);"><span>www.</span></div>
<div class="t" id="g1cm" style="left:511.80px;top:226px;font-size:22.90px;transform:scaleX(0.9964);"><span>tercihiniyap</span></div>
<div class="t" id="g1cn" style="left:596.92px;top:226px;font-size:22.90px;transform:scaleX(1.0492);"><span>.net</span></div>
<div class="t" id="g1d" style="left:629.85px;top:223px;font-size:31.29px;transform:scaleX(1.3125);font-weight:400;"><span>/</span></div>
<div class="t" id="g1ew" style="left:675.46px;top:226px;font-size:22.90px;color:#FF0000;transform:scaleX(1.1192);"><span>www.</span></div>
<div class="t" id="g1em" style="left:771.72px;top:226px;font-size:22.90px;color:#FF0000;transform:scaleX(0.9897);"><span>tercihiniyap</span></div>
<div class="t" id="g1en" style="left:856.26px;top:226px;font-size:22.90px;color:#FF0000;transform:scaleX(1.0420);"><span>.net</span></div>
<div class="t" id="g2aw" style="left:154.28px;top:2106px;font-size:22.90px;color:#FF0000;transform:scaleX(1.1268);"><span>www.</span></div>
<div class="t" id="g2am" style="left:251.20px;top:2106px;font-size:22.90px;color:#FF0000;transform:scaleX(0.9964);"><span>tercihiniyap</span></div>
<div class="t" id="g2an" style="left:336.32px;top:2106px;font-size:22.90px;color:#FF0000;transform:scaleX(1.0492);"><span>.net</span></div>
<div class="t" id="g2b" style="left:369.25px;top:2103px;font-size:31.29px;transform:scaleX(1.3125);font-weight:400;"><span>/</span></div>
<div class="t" id="g2cw" style="left:414.88px;top:2106px;font-size:22.90px;transform:scaleX(1.1268);"><span>www.</span></div>
<div class="t" id="g2cm" style="left:511.80px;top:2106px;font-size:22.90px;transform:scaleX(0.9964);"><span>tercihiniyap</span></div>
<div class="t" id="g2cn" style="left:596.92px;top:2106px;font-size:22.90px;transform:scaleX(1.0492);"><span>.net</span></div>
<div class="t" id="g2d" style="left:629.85px;top:2103px;font-size:31.29px;transform:scaleX(1.3125);font-weight:400;"><span>/</span></div>
<div class="t" id="g2ew" style="left:675.46px;top:2106px;font-size:22.90px;color:#FF0000;transform:scaleX(1.1192);"><span>www.</span></div>
<div class="t" id="g2em" style="left:771.72px;top:2106px;font-size:22.90px;color:#FF0000;transform:scaleX(0.9897);"><span>tercihiniyap</span></div>
<div class="t" id="g2en" style="left:856.26px;top:2106px;font-size:22.90px;color:#FF0000;transform:scaleX(1.0420);"><span>.net</span></div>
<div class="t" id="r0a" style="left:183.00px;top:259px;font-size:16.10px;transform:scaleX(1.0173);"><span>Diyarbakır Aile, Çalışma ve Sosyal</span></div>
<div class="t" id="r0b" style="left:182.70px;top:285px;font-size:16.10px;transform:scaleX(1.0663);"><span>Hizmetler İl Müdürlüğü</span></div>
<div class="t" id="r0c" style="left:434.95px;top:272px;font-size:16.10px;transform:scaleX(1.0384);"><span>Büro Personeli</span></div>
<div class="t" id="r0d" style="left:591.67px;top:272px;font-size:16.10px;transform:scaleX(1.0675);"><span>Diyarbakır</span></div>
<div class="t" id="r0e" style="left:700.10px;top:272px;font-size:17.20px;transform:scaleX(1.0250);"><span>1</span></div>
<div class="t" id="r0f" style="left:799.60px;top:267px;font-size:28.20px;transform:scaleX(1.0714);"><span>94.533</span></div>
<div class="t" id="r0g" style="left:922.80px;top:268px;font-size:25.70px;transform:scaleX(1.0632);"><span>94.533</span></div>
<div class="t" id="r1a" style="left:183.00px;top:317px;font-size:16.10px;transform:scaleX(1.0174);"><span>Adana Aile, Çalışma ve Sosyal</span></div>
<div class="t" id="r1b" style="left:182.70px;top:343px;font-size:16.10px;transform:scaleX(1.0663);"><span>Hizmetler İl Müdürlüğü</span></div>
<div class="t" id="r1c" style="left:434.95px;top:329px;font-size:16.10px;transform:scaleX(1.0384);"><span>Büro Personeli</span></div>
<div class="t" id="r1d" style="left:591.33px;top:329px;font-size:16.10px;transform:scaleX(1.0347);"><span>Adana</span></div>
<div class="t" id="r1e" style="left:700.10px;top:330px;font-size:17.20px;transform:scaleX(1.0250);"><span>1</span></div>
<div class="t" id="r1f" style="left:799.60px;top:325px;font-size:28.20px;transform:scaleX(1.0714);"><span>93.994</span></div>
<div class="t" id="r1g" style="left:922.80px;top:326px;font-size:25.70px;transform:scaleX(1.0632);"><span>93.994</span></div>
<div class="t" id="r2a" style="left:183.00px;top:375px;font-size:16.10px;transform:scaleX(1.0256);"><span>Mardin Aile, Çalışma ve Sosyal</span></div>
<div class="t" id="r2b" style="left:182.70px;top:401px;font-size:16.10px;transform:scaleX(1.0663);"><span>Hizmetler İl Müdürlüğü</span></div>
<div class="t" id="r2c" style="left:434.95px;top:387px;font-size:16.10px;transform:scaleX(1.0384);"><span>Büro Personeli</span></div>
<div class="t" id="r2d" style="left:592.00px;top:387px;font-size:16.10px;transform:scaleX(1.1480);"><span>Mardin</span></div>
<div class="t" id="r2e" style="left:700.10px;top:388px;font-size:17.20px;transform:scaleX(1.0250);"><span>1</span></div>
<div class="t" id="r2f" style="left:799.60px;top:382px;font-size:28.20px;transform:scaleX(1.0714);"><span>93.553</span></div>
<div class="t" id="r2g" style="left:922.80px;top:384px;font-size:25.70px;transform:scaleX(1.0632);"><span>93.553</span></div>
<div class="t" id="r3a" style="left:183.00px;top:433px;font-size:16.10px;transform:scaleX(1.0008);"><span>Kocaeli Aile, Çalışma ve Sosyal</span></div>
<div class="t" id="r3b" style="left:182.70px;top:458px;font-size:16.10px;transform:scaleX(1.0663);"><span>Hizmetler İl Müdürlüğü</span></div>
<div class="t" id="r3c" style="left:434.95px;top:445px;font-size:16.10px;transform:scaleX(1.0384);"><span>Büro Personeli</span></div>
<div class="t" id="r3d" style="left:591.49px;top:445px;font-size:16.10px;transform:scaleX(1.0182);"><span>Kocaeli</span></div>
<div class="t" id="r3e" style="left:700.10px;top:445px;font-size:17.20px;transform:scaleX(1.0250);"><span>1</span></div>
<div class="t" id="r3f" style="left:799.60px;top:440px;font-size:28.20px;transform:scaleX(1.0714);"><span>92.988</span></div>
<div class="t" id="r3g" style="left:922.80px;top:442px;font-size:25.70px;transform:scaleX(1.0632);"><span>92.988</span></div>
<div class="t" id="r4a" style="left:183.00px;top:490px;font-size:16.10px;transform:scaleX(1.0180);"><span>Karaman Aile, Çalışma ve Sosyal</span></div>
<div class="t" id="r4b" style="left:182.70px;top:516px;font-size:16.10px;transform:scaleX(1.0663);"><span>Hizmetler İl Müdürlüğü</span></div>
<div class="t" id="r4c" style="left:434.95px;top:503px;font-size:16.10px;transform:scaleX(1.0384);"><span>Büro Personeli</span></div>
<div class="t" id="r4d" style="left:592.00px;top:503px;font-size:16.10px;transform:scaleX(1.0909);"><span>Karaman</span></div>
<div class="t" id="r4e" style="left:700.10px;top:503px;font-size:17.20px;transform:scaleX(1.0250);"><span>1</span></div>
<div class="t" id="r4f" style="left:799.60px;top:498px;font-size:28.20px;transform:scaleX(1.0714);"><span>92.949</span></div>
<div class="t" id="r4g" style="left:922.80px;top:500px;font-size:25.70px;transform:scaleX(1.0632);"><span>92.949</span></div>
<div class="t" id="r5a" style="left:183.00px;top:548px;font-size:16.10px;transform:scaleX(1.0233);"><span>Ankara Aile, Çalışma ve Sosyal</span></div>
<div class="t" id="r5b" style="left:182.70px;top:574px;font-size:16.10px;transform:scaleX(1.0663);"><span>Hizmetler İl Müdürlüğü</span></div>
<div class="t" id="r5c" style="left:434.95px;top:561px;font-size:16.10px;transform:scaleX(1.0384);"><span>Büro Personeli</span></div>
<div class="t" id="r5d" style="left:591.45px;top:561px;font-size:16.10px;transform:scaleX(1.0574);"><span>Ankara</span></div>
<div class="t" id="r5e" style="left:700.00px;top:561px;font-size:17.20px;transform:scaleX(1.0500);"><span>2</span></div>
<div class="t" id="r5f" style="left:799.60px;top:556px;font-size:28.20px;transform:scaleX(1.0714);"><span>92.808</span></div>
<div class="t" id="r5g" style="left:922.80px;top:557px;font-size:25.70px;transform:scaleX(1.0632);"><span>93.472</span></div>
<div class="t" id="r6a" style="left:183.00px;top:606px;font-size:16.10px;transform:scaleX(1.0123);"><span>Samsun Aile, Çalışma ve Sosyal</span></div>
<div class="t" id="r6b" style="left:182.70px;top:632px;font-size:16.10px;transform:scaleX(1.0663);"><span>Hizmetler İl Müdürlüğü</span></div>
<div class="t" id="r6c" style="left:434.95px;top:619px;font-size:16.10px;transform:scaleX(1.0384);"><span>Büro Personeli</span></div>
<div class="t" id="r6d" style="left:591.81px;top:619px;font-size:16.10px;transform:scaleX(1.0230);"><span>Samsun</span></div>
<div class="t" id="r6e" style="left:700.10px;top:619px;font-size:17.20px;transform:scaleX(1.0250);"><span>1</span></div>
<div class="t" id="r6f" style="left:799.60px;top:614px;font-size:28.20px;transform:scaleX(1.0714);"><span>92.165</span></div>
<div class="t" id="r6g" style="left:922.80px;top:615px;font-size:25.70px;transform:scaleX(1.0632);"><span>92.165</span></div>
<div class="t" id="r7a" style="left:183.00px;top:664px;font-size:16.10px;transform:scaleX(1.0113);"><span>Kırıkkale Aile, Çalışma ve Sosyal</span></div>
<div class="t" id="r7b" style="left:182.70px;top:690px;font-size:16.10px;transform:scaleX(1.0663);"><span>Hizmetler İl Müdürlüğü</span></div>
<div class="t" id="r7c" style="left:434.95px;top:677px;font-size:16.10px;transform:scaleX(1.0384);"><span>Büro Personeli</span></div>
<div class="t" id="r7d" style="left:591.47px;top:677px;font-size:16.10px;transform:scaleX(1.0554);"><span>Kırıkkale</span></div>
<div class="t" id="r7e" style="left:700.10px;top:677px;font-size:17.20px;transform:scaleX(1.0250);"><span>1</span></div>
<div class="t" id="r7f" style="left:799.60px;top:672px;font-size:28.20px;transform:scaleX(1.0714);"><span>92.132</span></div>
<div class="t" id="r7g" style="left:922.80px;top:673px;font-size:25.70px;transform:scaleX(1.0632);"><span>92.132</span></div>
<div class="t" id="r8a" style="left:183.00px;top:722px;font-size:16.10px;transform:scaleX(1.0084);"><span>Kayseri Aile, Çalışma ve Sosyal</span></div>
<div class="t" id="r8b" style="left:182.70px;top:748px;font-size:16.10px;transform:scaleX(1.0663);"><span>Hizmetler İl Müdürlüğü</span></div>
<div class="t" id="r8c" style="left:434.95px;top:734px;font-size:16.10px;transform:scaleX(1.0384);"><span>Büro Personeli</span></div>
<div class="t" id="r8d" style="left:591.60px;top:734px;font-size:16.10px;transform:scaleX(1.0250);"><span>Kayseri</span></div>
<div class="t" id="r8e" style="left:700.10px;top:735px;font-size:17.20px;transform:scaleX(1.0250);"><span>1</span></div>
<div class="t" id="r8f" style="left:799.60px;top:730px;font-size:28.20px;transform:scaleX(1.0714);"><span>91.926</span></div>
<div class="t" id="r8g" style="left:922.80px;top:731px;font-size:25.70px;transform:scaleX(1.0632);"><span>91.926</span></div>
<div class="t" id="r9a" style="left:183.00px;top:780px;font-size:16.10px;transform:scaleX(1.0267);"><span>Mersin Aile, Çalışma ve Sosyal</span></div>
<div class="t" id="r9b" style="left:182.70px;top:806px;font-size:16.10px;transform:scaleX(1.0663);"><span>Hizmetler İl Müdürlüğü</span></div>
<div class="t" id="r9c" style="left:434.95px;top:792px;font-size:16.10px;transform:scaleX(1.0384);"><span>Büro Personeli</span></div>
<div class="t" id="r9d" style="left:591.45px;top:792px;font-size:16.10px;transform:scaleX(1.0980);"><span>Mersin</span></div>
<div class="t" id="r9e" style="left:700.10px;top:792px;font-size:17.20px;transform:scaleX(1.0250);"><span>1</span></div>
<div class="t" id="r9f" style="left:799.60px;top:787px;font-size:28.20px;transform:scaleX(1.0714);"><span>91.698</span></div>
<div class="t" id="r9g" style="left:922.80px;top:789px;font-size:25.70px;transform:scaleX(1.0632);"><span>91.698</span></div>
<div class="t" id="r10a" style="left:183.06px;top:838px;font-size:16.10px;transform:scaleX(1.0251);"><span>Siirt Aile, Çalışma ve Sosyal Hizmetler İl</span></div>
<div class="t" id="r10b" style="left:182.16px;top:863px;font-size:16.10px;transform:scaleX(1.0728);"><span>Müdürlüğü</span></div>
<div class="t" id="r10c" style="left:434.95px;top:850px;font-size:16.10px;transform:scaleX(1.0384);"><span>Büro Personeli</span></div>
<div class="t" id="r10d" style="left:591.50px;top:850px;font-size:16.10px;transform:scaleX(1.0400);"><span>Siirt</span></div>
<div class="t" id="r10e" style="left:700.10px;top:850px;font-size:17.20px;transform:scaleX(1.0250);"><span>1</span></div>
<div class="t" id="r10f" style="left:799.60px;top:845px;font-size:28.20px;transform:scaleX(1.0714);"><span>91.638</span></div>
<div class="t" id="r10g" style="left:922.80px;top:847px;font-size:25.70px;transform:scaleX(1.0632);"><span>91.638</span></div>
<div class="t" id="r11a" style="left:182.55px;top:895px;font-size:16.10px;transform:scaleX(1.0255);"><span>Afyonkarahisar Aile, Çalışma ve Sosyal</span></div>
<div class="t" id="r11b" style="left:182.70px;top:921px;font-size:16.10px;transform:scaleX(1.0663);"><span>Hizmetler İl Müdürlüğü</span></div>
<div class="t" id="r11c" style="left:434.95px;top:908px;font-size:16.10px;transform:scaleX(1.0384);"><span>Büro Personeli</span></div>
<div class="t" id="r11d" style="left:591.45px;top:908px;font-size:16.10px;transform:scaleX(1.0526);"><span>Afyonkarahisar</span></div>
<div class="t" id="r11e" style="left:700.00px;top:908px;font-size:17.20px;transform:scaleX(1.0500);"><span>2</span></div>
<div class="t" id="r11f" style="left:799.60px;top:903px;font-size:28.20px;transform:scaleX(1.0714);"><span>91.099</span></div>
<div class="t" id="r11g" style="left:922.80px;top:905px;font-size:25.70px;transform:scaleX(1.0632);"><span>93.336</span></div>
<div class="t" id="r12a" style="left:182.04px;top:953px;font-size:16.10px;transform:scaleX(1.0228);"><span>Niğde Aile, Çalışma ve Sosyal Hizmetler</span></div>
<div class="t" id="r12b" style="left:182.70px;top:979px;font-size:16.10px;transform:scaleX(1.0787);"><span>İl Müdürlüğü</span></div>
<div class="t" id="r12c" style="left:434.95px;top:966px;font-size:16.10px;transform:scaleX(1.0384);"><span>Büro Personeli</span></div>
<div class="t" id="r12d" style="left:591.18px;top:966px;font-size:16.10px;transform:scaleX(1.0419);"><span>Niğde</span></div>
<div class="t" id="r12e" style="left:700.10px;top:966px;font-size:17.20px;transform:scaleX(1.0250);"><span>1</span></div>
<div class="t" id="r12f" style="left:799.60px;top:961px;font-size:28.20px;transform:scaleX(1.0714);"><span>90.760</span></div>
<div class="t" id="r12g" style="left:922.80px;top:962px;font-size:25.70px;transform:scaleX(1.0632);"><span>90.760</span></div>
<div class="t" id="r13a" style="left:183.51px;top:1011px;font-size:16.10px;transform:scaleX(1.0154);"><span>Tekirdağ Aile, Çalışma ve Sosyal</span></div>
<div class="t" id="r13b" style="left:182.70px;top:1037px;font-size:16.10px;transform:scaleX(1.0663);"><span>Hizmetler İl Müdürlüğü</span></div>
<div class="t" id="r13c" style="left:434.95px;top:1024px;font-size:16.10px;transform:scaleX(1.0384);"><span>Büro Personeli</span></div>
<div class="t" id="r13d" style="left:592.93px;top:1024px;font-size:16.10px;transform:scaleX(1.0554);"><span>Tekirdağ</span></div>
<div class="t" id="r13e" style="left:700.10px;top:1024px;font-size:17.20px;transform:scaleX(1.0250);"><span>1</span></div>
<div class="t" id="r13f" style="left:799.60px;top:1019px;font-size:28.20px;transform:scaleX(1.0714);"><span>90.581</span></div>
<div class="t" id="r13g" style="left:922.80px;top:1020px;font-size:25.70px;transform:scaleX(1.0632);"><span>90.581</span></div>
<div class="t" id="r14a" style="left:183.00px;top:1069px;font-size:16.10px;transform:scaleX(1.0022);"><span>Bilecik Aile, Çalışma ve Sosyal</span></div>
<div class="t" id="r14b" style="left:182.70px;top:1095px;font-size:16.10px;transform:scaleX(1.0663);"><span>Hizmetler İl Müdürlüğü</span></div>
<div class="t" id="r14c" style="left:434.95px;top:1082px;font-size:16.10px;transform:scaleX(1.0384);"><span>Büro Personeli</span></div>
<div class="t" id="r14d" style="left:591.21px;top:1082px;font-size:16.10px;transform:scaleX(0.9882);"><span>Bilecik</span></div>
<div class="t" id="r14e" style="left:700.10px;top:1082px;font-size:17.20px;transform:scaleX(1.0250);"><span>1</span></div>
<div class="t" id="r14f" style="left:799.60px;top:1077px;font-size:28.20px;transform:scaleX(1.0714);"><span>90.470</span></div>
<div class="t" id="r14g" style="left:922.80px;top:1078px;font-size:25.70px;transform:scaleX(1.0632);"><span>90.470</span></div>
<div class="t" id="r15a" style="left:183.00px;top:1127px;font-size:16.10px;transform:scaleX(1.0292);"><span>Malatya Aile, Çalışma ve Sosyal</span></div>
<div class="t" id="r15b" style="left:182.70px;top:1153px;font-size:16.10px;transform:scaleX(1.0663);"><span>Hizmetler İl Müdürlüğü</span></div>
<div class="t" id="r15c" style="left:434.95px;top:1139px;font-size:16.10px;transform:scaleX(1.0384);"><span>Büro Personeli</span></div>
<div class="t" id="r15d" style="left:590.89px;top:1139px;font-size:16.10px;transform:scaleX(1.1103);"><span>Malatya</span></div>
<div class="t" id="r15e" style="left:700.10px;top:1140px;font-size:17.20px;transform:scaleX(1.0250);"><span>1</span></div>
<div class="t" id="r15f" style="left:799.60px;top:1134px;font-size:28.20px;transform:scaleX(1.0714);"><span>90.298</span></div>
<div class="t" id="r15g" style="left:922.80px;top:1136px;font-size:25.70px;transform:scaleX(1.0632);"><span>90.298</span></div>
<div class="t" id="r16a" style="left:183.00px;top:1185px;font-size:16.10px;transform:scaleX(1.0100);"><span>Şanlıurfa Aile, Çalışma ve Sosyal</span></div>
<div class="t" id="r16b" style="left:182.70px;top:1210px;font-size:16.10px;transform:scaleX(1.0663);"><span>Hizmetler İl Müdürlüğü</span></div>
<div class="t" id="r16c" style="left:434.95px;top:1197px;font-size:16.10px;transform:scaleX(1.0384);"><span>Büro Personeli</span></div>
<div class="t" id="r16d" style="left:591.19px;top:1197px;font-size:16.10px;transform:scaleX(1.0145);"><span>Şanlıurfa</span></div>
<div class="t" id="r16e" style="left:700.00px;top:1197px;font-size:17.20px;transform:scaleX(1.0500);"><span>3</span></div>
<div class="t" id="r16f" style="left:799.60px;top:1192px;font-size:28.20px;transform:scaleX(1.0714);"><span>90.103</span></div>
<div class="t" id="r16g" style="left:922.80px;top:1194px;font-size:25.70px;transform:scaleX(1.0632);"><span>92.554</span></div>
<div class="t" id="r17a" style="left:183.00px;top:1243px;font-size:16.10px;transform:scaleX(1.0155);"><span>Osmaniye Aile, Çalışma ve Sosyal</span></div>
<div class="t" id="r17b" style="left:182.70px;top:1268px;font-size:16.10px;transform:scaleX(1.0663);"><span>Hizmetler İl Müdürlüğü</span></div>
<div class="t" id="r17c" style="left:434.95px;top:1255px;font-size:16.10px;transform:scaleX(1.0384);"><span>Büro Personeli</span></div>
<div class="t" id="r17d" style="left:591.85px;top:1255px;font-size:16.10px;transform:scaleX(1.0355);"><span>Osmaniye</span></div>
<div class="t" id="r17e" style="left:700.10px;top:1255px;font-size:17.20px;transform:scaleX(1.0250);"><span>1</span></div>
<div class="t" id="r17f" style="left:799.60px;top:1250px;font-size:28.20px;transform:scaleX(1.0714);"><span>89.921</span></div>
<div class="t" id="r17g" style="left:922.80px;top:1252px;font-size:25.70px;transform:scaleX(1.0632);"><span>89.921</span></div>
<div class="t" id="r18a" style="left:183.00px;top:1300px;font-size:16.10px;transform:scaleX(1.0202);"><span>Gaziantep Aile, Çalışma ve Sosyal</span></div>
<div class="t" id="r18b" style="left:182.70px;top:1326px;font-size:16.10px;transform:scaleX(1.0663);"><span>Hizmetler İl Müdürlüğü</span></div>
<div class="t" id="r18c" style="left:434.95px;top:1313px;font-size:16.10px;transform:scaleX(1.0384);"><span>Büro Personeli</span></div>
<div class="t" id="r18d" style="left:592.00px;top:1313px;font-size:16.10px;transform:scaleX(1.0605);"><span>Gaziantep</span></div>
<div class="t" id="r18e" style="left:700.00px;top:1313px;font-size:17.20px;transform:scaleX(1.0500);"><span>2</span></div>
<div class="t" id="r18f" style="left:799.60px;top:1308px;font-size:28.20px;transform:scaleX(1.0714);"><span>89.831</span></div>
<div class="t" id="r18g" style="left:922.80px;top:1309px;font-size:25.70px;transform:scaleX(1.0632);"><span>90.775</span></div>
<div class="t" id="r19a" style="left:182.04px;top:1358px;font-size:16.10px;transform:scaleX(1.0239);"><span>Muğla Aile, Çalışma ve Sosyal Hizmetler</span></div>
<div class="t" id="r19b" style="left:182.70px;top:1384px;font-size:16.10px;transform:scaleX(1.0787);"><span>İl Müdürlüğü</span></div>
<div class="t" id="r19c" style="left:434.95px;top:1371px;font-size:16.10px;transform:scaleX(1.0384);"><span>Büro Personeli</span></div>
<div class="t" id="r19d" style="left:591.46px;top:1371px;font-size:16.10px;transform:scaleX(1.0889);"><span>Muğla</span></div>
<div class="t" id="r19e" style="left:700.00px;top:1371px;font-size:17.20px;transform:scaleX(1.0500);"><span>3</span></div>
<div class="t" id="r19f" style="left:799.60px;top:1366px;font-size:28.20px;transform:scaleX(1.0714);"><span>89.668</span></div>
<div class="t" id="r19g" style="left:922.80px;top:1367px;font-size:25.70px;transform:scaleX(1.0632);"><span>90.050</span></div>
<div class="t" id="r20a" style="left:183.00px;top:1416px;font-size:16.10px;transform:scaleX(1.0227);"><span>İstanbul Aile, Çalışma ve Sosyal</span></div>
<div class="t" id="r20b" style="left:182.70px;top:1442px;font-size:16.10px;transform:scaleX(1.0663);"><span>Hizmetler İl Müdürlüğü</span></div>
<div class="t" id="r20c" style="left:434.95px;top:1429px;font-size:16.10px;transform:scaleX(1.0384);"><span>Büro Personeli</span></div>
<div class="t" id="r20d" style="left:592.15px;top:1429px;font-size:16.10px;transform:scaleX(1.0783);"><span>İstanbul</span></div>
<div class="t" id="r20e" style="left:700.00px;top:1429px;font-size:17.20px;transform:scaleX(0.8400);"><span>4</span></div>
<div class="t" id="r20f" style="left:799.60px;top:1424px;font-size:28.20px;transform:scaleX(1.0714);"><span>89.647</span></div>
<div class="t" id="r20g" style="left:922.80px;top:1425px;font-size:25.70px;transform:scaleX(1.0632);"><span>91.039</span></div>
<div class="t" id="r21a" style="left:182.55px;top:1474px;font-size:16.10px;transform:scaleX(1.0198);"><span>Şırnak Aile, Çalışma ve Sosyal Hizmetler</span></div>
<div class="t" id="r21b" style="left:182.70px;top:1500px;font-size:16.10px;transform:scaleX(1.0787);"><span>İl Müdürlüğü</span></div>
<div class="t" id="r21c" style="left:434.95px;top:1486px;font-size:16.10px;transform:scaleX(1.0384);"><span>Büro Personeli</span></div>
<div class="t" id="r21d" style="left:591.49px;top:1486px;font-size:16.10px;transform:scaleX(1.0163);"><span>Şırnak</span></div>
<div class="t" id="r21e" style="left:700.10px;top:1487px;font-size:17.20px;transform:scaleX(1.0250);"><span>1</span></div>
<div class="t" id="r21f" style="left:799.60px;top:1482px;font-size:28.20px;transform:scaleX(1.0714);"><span>89.547</span></div>
<div class="t" id="r21g" style="left:922.80px;top:1483px;font-size:25.70px;transform:scaleX(1.0632);"><span>89.547</span></div>
<div class="t" id="r22a" style="left:182.55px;top:1532px;font-size:16.10px;transform:scaleX(1.0274);"><span>İzmir Aile, Çalışma ve Sosyal Hizmetler</span></div>
<div class="t" id="r22b" style="left:182.70px;top:1558px;font-size:16.10px;transform:scaleX(1.0787);"><span>İl Müdürlüğü</span></div>
<div class="t" id="r22c" style="left:434.95px;top:1544px;font-size:16.10px;transform:scaleX(1.0384);"><span>Büro Personeli</span></div>
<div class="t" id="r22d" style="left:590.98px;top:1544px;font-size:16.10px;transform:scaleX(1.0486);"><span>İzmir</span></div>
<div class="t" id="r22e" style="left:700.00px;top:1545px;font-size:17.20px;transform:scaleX(1.0500);"><span>2</span></div>
<div class="t" id="r22f" style="left:799.60px;top:1539px;font-size:28.20px;transform:scaleX(1.0714);"><span>89.545</span></div>
<div class="t" id="r22g" style="left:922.80px;top:1541px;font-size:25.70px;transform:scaleX(1.0632);"><span>91.516</span></div>
<div class="t" id="r23a" style="left:183.51px;top:1590px;font-size:16.10px;transform:scaleX(1.0185);"><span>Trabzon Aile, Çalışma ve Sosyal</span></div>
<div class="t" id="r23b" style="left:182.70px;top:1615px;font-size:16.10px;transform:scaleX(1.0663);"><span>Hizmetler İl Müdürlüğü</span></div>
<div class="t" id="r23c" style="left:434.95px;top:1602px;font-size:16.10px;transform:scaleX(1.0384);"><span>Büro Personeli</span></div>
<div class="t" id="r23d" style="left:592.18px;top:1602px;font-size:16.10px;transform:scaleX(1.0672);"><span>Trabzon</span></div>
<div class="t" id="r23e" style="left:700.10px;top:1602px;font-size:17.20px;transform:scaleX(1.0250);"><span>1</span></div>
<div class="t" id="r23f" style="left:799.60px;top:1597px;font-size:28.20px;transform:scaleX(1.0714);"><span>89.487</span></div>
<div class="t" id="r23g" style="left:922.80px;top:1599px;font-size:25.70px;transform:scaleX(1.0632);"><span>89.487</span></div>
<div class="t" id="r24a" style="left:183.51px;top:1648px;font-size:16.10px;transform:scaleX(1.0120);"><span>Yozgat Aile, Çalışma ve Sosyal</span></div>
<div class="t" id="r24b" style="left:182.70px;top:1673px;font-size:16.10px;transform:scaleX(1.0663);"><span>Hizmetler İl Müdürlüğü</span></div>
<div class="t" id="r24c" style="left:434.95px;top:1660px;font-size:16.10px;transform:scaleX(1.0384);"><span>Büro Personeli</span></div>
<div class="t" id="r24d" style="left:591.48px;top:1660px;font-size:16.10px;transform:scaleX(1.0431);"><span>Yozgat</span></div>
<div class="t" id="r24e" style="left:700.10px;top:1660px;font-size:17.20px;transform:scaleX(1.0250);"><span>1</span></div>
<div class="t" id="r24f" style="left:799.60px;top:1655px;font-size:28.20px;transform:scaleX(1.0714);"><span>89.399</span></div>
<div class="t" id="r24g" style="left:922.80px;top:1657px;font-size:25.70px;transform:scaleX(1.0632);"><span>89.399</span></div>
<div class="t" id="r25a" style="left:183.00px;top:1705px;font-size:16.10px;transform:scaleX(1.0256);"><span>Mardin Aile, Çalışma ve Sosyal</span></div>
<div class="t" id="r25b" style="left:182.70px;top:1731px;font-size:16.10px;transform:scaleX(1.0663);"><span>Hizmetler İl Müdürlüğü</span></div>
<div class="t" id="r25c" style="left:434.95px;top:1718px;font-size:16.10px;transform:scaleX(1.0384);"><span>Büro Personeli</span></div>
<div class="t" id="r25d" style="left:592.00px;top:1718px;font-size:16.10px;transform:scaleX(1.1480);"><span>Mardin</span></div>
<div class="t" id="r25e" style="left:700.10px;top:1718px;font-size:17.20px;transform:scaleX(1.0250);"><span>1</span></div>
<div class="t" id="r25f" style="left:799.60px;top:1713px;font-size:28.20px;transform:scaleX(1.0714);"><span>89.382</span></div>
<div class="t" id="r25g" style="left:922.80px;top:1714px;font-size:25.70px;transform:scaleX(1.0632);"><span>89.382</span></div>
<div class="t" id="r26a" style="left:183.00px;top:1763px;font-size:16.10px;transform:scaleX(1.0169);"><span>Manisa Aile, Çalışma ve Sosyal</span></div>
<div class="t" id="r26b" style="left:182.70px;top:1789px;font-size:16.10px;transform:scaleX(1.0663);"><span>Hizmetler İl Müdürlüğü</span></div>
<div class="t" id="r26c" style="left:434.95px;top:1776px;font-size:16.10px;transform:scaleX(1.0384);"><span>Büro Personeli</span></div>
<div class="t" id="r26d" style="left:591.25px;top:1776px;font-size:16.10px;transform:scaleX(1.0906);"><span>Manisa</span></div>
<div class="t" id="r26e" style="left:700.10px;top:1776px;font-size:17.20px;transform:scaleX(1.0250);"><span>1</span></div>
<div class="t" id="r26f" style="left:799.60px;top:1771px;font-size:28.20px;transform:scaleX(1.0714);"><span>89.375</span></div>
<div class="t" id="r26g" style="left:922.80px;top:1772px;font-size:25.70px;transform:scaleX(1.0632);"><span>89.375</span></div>
<div class="t" id="r27a" style="left:183.00px;top:1821px;font-size:16.10px;transform:scaleX(1.0227);"><span>İstanbul Aile, Çalışma ve Sosyal</span></div>
<div class="t" id="r27b" style="left:182.70px;top:1847px;font-size:16.10px;transform:scaleX(1.0663);"><span>Hizmetler İl Müdürlüğü</span></div>
<div class="t" id="r27c" style="left:434.95px;top:1834px;font-size:16.10px;transform:scaleX(1.0384);"><span>Büro Personeli</span></div>
<div class="t" id="r27d" style="left:592.15px;top:1834px;font-size:16.10px;transform:scaleX(1.0783);"><span>İstanbul</span></div>
<div class="t" id="r27e" style="left:700.10px;top:1834px;font-size:17.20px;transform:scaleX(1.0250);"><span>1</span></div>
<div class="t" id="r27f" style="left:799.60px;top:1829px;font-size:28.20px;transform:scaleX(1.0714);"><span>89.359</span></div>
<div class="t" id="r27g" style="left:922.80px;top:1830px;font-size:25.70px;transform:scaleX(1.0632);"><span>89.359</span></div>
<div class="t" id="r28a" style="left:183.51px;top:1879px;font-size:16.10px;transform:scaleX(1.0144);"><span>Sakarya Aile, Çalışma ve Sosyal</span></div>
<div class="t" id="r28b" style="left:182.70px;top:1905px;font-size:16.10px;transform:scaleX(1.0663);"><span>Hizmetler İl Müdürlüğü</span></div>
<div class="t" id="r28c" style="left:434.95px;top:1891px;font-size:16.10px;transform:scaleX(1.0384);"><span>Büro Personeli</span></div>
<div class="t" id="r28d" style="left:590.79px;top:1891px;font-size:16.10px;transform:scaleX(1.0230);"><span>Sakarya</span></div>
<div class="t" id="r28e" style="left:700.10px;top:1892px;font-size:17.20px;transform:scaleX(1.0250);"><span>1</span></div>
<div class="t" id="r28f" style="left:799.60px;top:1887px;font-size:28.20px;transform:scaleX(1.0714);"><span>89.272</span></div>
<div class="t" id="r28g" style="left:922.80px;top:1888px;font-size:25.70px;transform:scaleX(1.0632);"><span>89.272</span></div>
<div class="t" id="r29a" style="left:183.00px;top:1937px;font-size:16.10px;transform:scaleX(1.0050);"><span>Kırşehir Aile, Çalışma ve Sosyal</span></div>
<div class="t" id="r29b" style="left:182.70px;top:1962px;font-size:16.10px;transform:scaleX(1.0663);"><span>Hizmetler İl Müdürlüğü</span></div>
<div class="t" id="r29c" style="left:434.95px;top:1949px;font-size:16.10px;transform:scaleX(1.0384);"><span>Büro Personeli</span></div>
<div class="t" id="r29d" style="left:590.94px;top:1949px;font-size:16.10px;transform:scaleX(1.0254);"><span>Kırşehir</span></div>
<div class="t" id="r29e" style="left:700.00px;top:1950px;font-size:17.20px;transform:scaleX(1.0500);"><span>2</span></div>
<div class="t" id="r29f" style="left:799.60px;top:1944px;font-size:28.20px;transform:scaleX(1.0714);"><span>89.249</span></div>
<div class="t" id="r29g" style="left:922.80px;top:1946px;font-size:25.70px;transform:scaleX(1.0632);"><span>89.382</span></div>
<div class="t" id="r30a" style="left:182.55px;top:1995px;font-size:16.10px;transform:scaleX(1.0206);"><span>Iğdır Aile, Çalışma ve Sosyal Hizmetler İl</span></div>
<div class="t" id="r30b" style="left:182.16px;top:2020px;font-size:16.10px;transform:scaleX(1.0728);"><span>Müdürlüğü</span></div>
<div class="t" id="r30c" style="left:434.95px;top:2007px;font-size:16.10px;transform:scaleX(1.0384);"><span>Büro Personeli</span></div>
<div class="t" id="r30d" style="left:591.47px;top:2007px;font-size:16.10px;transform:scaleX(1.0606);"><span>Iğdır</span></div>
<div class="t" id="r30e" style="left:700.10px;top:2007px;font-size:17.20px;transform:scaleX(1.0250);"><span>1</span></div>
<div class="t" id="r30f" style="left:799.60px;top:2002px;font-size:28.20px;transform:scaleX(1.0714);"><span>89.246</span></div>
<div class="t" id="r30g" style="left:922.80px;top:2004px;font-size:25.70px;transform:scaleX(1.0632);"><span>89.246</span></div>
<div class="t" id="r31a" style="left:182.04px;top:2052px;font-size:16.10px;transform:scaleX(1.0266);"><span>Ordu Aile, Çalışma ve Sosyal Hizmetler</span></div>
<div class="t" id="r31b" style="left:182.70px;top:2078px;font-size:16.10px;transform:scaleX(1.0787);"><span>İl Müdürlüğü</span></div>
<div class="t" id="r31c" style="left:434.95px;top:2065px;font-size:16.10px;transform:scaleX(1.0384);"><span>Büro Personeli</span></div>
<div class="t" id="r31d" style="left:592.19px;top:2065px;font-size:16.10px;transform:scaleX(1.0784);"><span>Ordu</span></div>
<div class="t" id="r31e" style="left:700.10px;top:2065px;font-size:17.20px;transform:scaleX(1.0250);"><span>1</span></div>
<div class="t" id="r31f" style="left:799.60px;top:2060px;font-size:28.20px;transform:scaleX(1.0714);"><span>89.194</span></div>
<div class="t" id="r31g" style="left:922.80px;top:2061px;font-size:25.70px;transform:scaleX(1.0632);"><span>89.194</span></div>
</body></html>
